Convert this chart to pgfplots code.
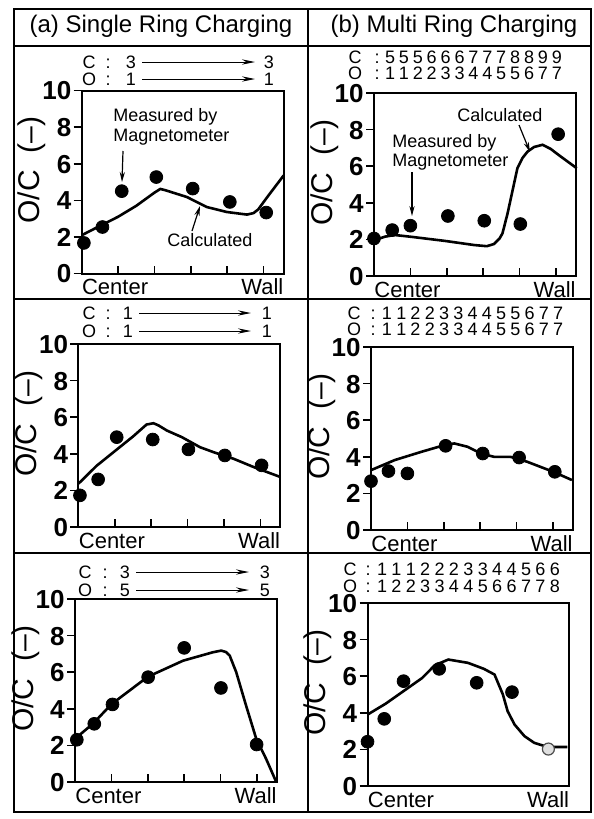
\documentclass[border=0pt]{standalone}
\usepackage{fontspec}
\setmainfont{Liberation Sans}
\usepackage{pgfplots}
\pgfplotsset{compat=1.18}
\usetikzlibrary{arrows.meta}

\pgfplotsset{
  panel/.style={
    scale only axis, width=101pt, height=91.5pt,
    xmin=0, xmax=5.55, ymin=0, ymax=10,
    axis line style={line width=1pt},
    xtick={1,2,3,4,5}, xticklabels={}, xtick pos=left, xtick align=inside,
    ytick={0,2,4,6,8,10}, ytick pos=left, ytick align=outside,
    major tick length=4pt,
    tick style={line width=0.8pt, black},
    yticklabel style={font=\fontsize{13}{13}\selectfont\bfseries, inner xsep=1pt, inner ysep=0pt, text height=9.4pt, text depth=0pt},
    /pgf/number format/assume math mode=true,
    ylabel={O/C\ \ (–)},
    ylabel style={at={(axis description cs:-0.245,0.565)}, anchor=center, font=\fontsize{15}{15}\selectfont},
    clip=false,
  },
  curve/.style={black, line width=1.3pt, no marks},
  dots/.style={only marks, mark=*, mark size=3.2pt, black},
}
\newcommand\cw{%
  \node[anchor=base west, font=\fontsize{11}{11}\selectfont, inner sep=0pt, yshift=-10.5pt] at (rel axis cs:0,0) {Center};
  \node[anchor=base east, font=\fontsize{11}{11}\selectfont, inner sep=0pt, yshift=-10.5pt] at (rel axis cs:1,0) {Wall};}

\begin{document}
\begin{tikzpicture}
\useasboundingbox (0,0) rectangle (297pt,-409.5pt);

% ---------- (a) row 1
\begin{axis}[panel, at={(40.85pt,-136.75pt)}, anchor=south west]
\addplot[curve] coordinates {(0,2.09) (0.5,2.6) (1,3.1) (1.5,3.7) (2.0,4.42) (2.16,4.62) (2.3,4.55) (2.89,4.18) (3.44,3.63) (3.99,3.36) (4.54,3.22) (4.72,3.3) (4.85,3.5) (5.1,4.18) (5.55,5.36)};
\addplot[dots] coordinates {(0.06,1.67) (0.57,2.54) (1.1,4.5) (2.05,5.27) (3.05,4.64) (4.07,3.91) (5.07,3.33)};
\cw
\end{axis}

% ---------- (b) row 1
\begin{axis}[panel, at={(187pt,-138pt)}, anchor=south west]
\addplot[curve] coordinates {(0,1.95) (0.3,2.15) (0.57,2.24) (1.03,2.14) (1.94,1.92) (2.76,1.69) (3.1,1.63) (3.3,1.75) (3.45,2.05) (3.53,2.33) (3.67,3.42) (3.81,4.7) (3.94,5.89) (4.08,6.45) (4.22,6.8) (4.4,7.05) (4.63,7.17) (4.85,6.95) (5.13,6.53) (5.57,5.89)};
\addplot[dots] coordinates {(0,2.05) (0.5,2.51) (1.0,2.75) (2.03,3.28) (3.03,3.02) (4.02,2.84) (5.06,7.75)};
\cw
\end{axis}

% ---------- (a) row 2
\begin{axis}[panel, at={(39.25pt,-263.5pt)}, anchor=south west]
\addplot[curve] coordinates {(0,2.37) (0.5,3.35) (1,4.15) (1.5,4.95) (1.87,5.6) (2.06,5.67) (2.2,5.55) (2.43,5.27) (2.84,4.91) (3.34,4.36) (3.71,4.09) (4.26,3.73) (4.82,3.27) (5.55,2.73)};
\addplot[dots] coordinates {(0.04,1.73) (0.54,2.6) (1.05,4.91) (2.04,4.78) (3.02,4.24) (4.02,3.91) (5.03,3.37)};
\cw
\end{axis}

% ---------- (b) row 2
\begin{axis}[panel, at={(185.5pt,-265pt)}, anchor=south west]
\addplot[curve] coordinates {(0,3.27) (0.65,3.82) (1.38,4.27) (2.02,4.64) (2.29,4.73) (2.65,4.55) (3.02,4.18) (3.38,4.0) (3.83,4.0) (4.29,3.73) (5.01,3.18) (5.52,2.73)};
\addplot[dots] coordinates {(0,2.67) (0.48,3.22) (1.0,3.09) (2.05,4.6) (3.07,4.18) (4.07,3.96) (5.05,3.18)};
\cw
\end{axis}

% ---------- (a) row 3
\begin{axis}[panel, at={(37.5pt,-391pt)}, anchor=south west]
\addplot[curve] coordinates {(0,2.36) (0.5,3.2) (1,4.25) (2,5.75) (2.97,6.63) (3.79,7.09) (4.02,7.18) (4.15,7.1) (4.25,6.91) (4.43,6.0) (4.7,4.18) (4.98,2.36) (5.25,1.27) (5.53,0)};
\addplot[dots] coordinates {(0.05,2.31) (0.53,3.18) (1.03,4.24) (2.01,5.73) (3.0,7.33) (4.01,5.14) (4.99,2.05)};
\cw
\end{axis}

% ---------- (b) row 3
\begin{axis}[panel, at={(183.75pt,-393pt)}, anchor=south west, xtick=\empty]
\addplot[curve] coordinates {(0,3.9) (0.5,4.5) (1,5.2) (1.5,5.9) (1.85,6.6) (2.22,6.91) (2.76,6.73) (3.2,6.4) (3.49,6.09) (3.72,5.0) (3.85,4.09) (4.04,3.36) (4.31,2.73) (4.58,2.36) (4.95,2.13) (5.49,2.13)};
\addplot[dots] coordinates {(0,2.42) (0.46,3.67) (0.99,5.73) (1.97,6.4) (3.0,5.64) (3.97,5.13)};
\addplot[only marks, mark=*, mark size=3pt, mark options={fill=gray!25, draw=gray!60!black, line width=0.6pt}] coordinates {(4.97,2.02)};
\cw
\end{axis}

% ---------- frame, titles, headers, annotations
\begin{scope}[x=0.5pt, y=-0.5pt]
\draw[line width=0.9pt] (14,9) rectangle (591,812);
\draw[line width=0.9pt] (14,46) -- (591,46);
\draw[line width=0.9pt] (14,299) -- (591,299);
\draw[line width=0.9pt] (14,553) -- (591,553);
\draw[line width=0.9pt] (308,9) -- (308,812);

\node[font=\fontsize{12}{12}\selectfont] at (161,26) {(a) Single Ring Charging};
\node[font=\fontsize{12}{12}\selectfont] at (454,26) {(b) Multi Ring Charging};

\tikzset{hdr/.style={font=\fontsize{9}{9}\selectfont, inner sep=0pt, text height=6.4pt, text depth=0pt},
         harr/.style={line width=0.5pt, -{Stealth[length=6.5pt,width=2.6pt]}},
         ann/.style={font=\fontsize{9}{9}\selectfont, inner sep=0pt, anchor=west},
         aarr/.style={line width=0.6pt, -{Stealth[length=5pt,width=2.6pt]}}}

% (a) headers
\foreach \yy/\lc/\lv in {62/C/3, 79/O/1} {
  \node[hdr] at (89,\yy) {\lc}; \node[hdr] at (108,\yy) {:}; \node[hdr] at (131,\yy) {\lv};
  \draw[harr] (142,\yy) -- (255,\yy); \node[hdr] at (269,\yy) {\lv};}
\foreach \yy/\lc/\lv in {313/C/1, 331/O/1} {
  \node[hdr] at (89,\yy) {\lc}; \node[hdr] at (108,\yy) {:}; \node[hdr] at (128,\yy) {\lv};
  \draw[harr] (139,\yy) -- (251,\yy); \node[hdr] at (267,\yy) {\lv};}
\foreach \yy/\lc/\lv in {572/C/3, 590/O/5} {
  \node[hdr] at (85,\yy) {\lc}; \node[hdr] at (105,\yy) {:}; \node[hdr] at (125,\yy) {\lv};
  \draw[harr] (136,\yy) -- (249,\yy); \node[hdr] at (265,\yy) {\lv};}

% (b) headers
\node[hdr] at (355,57) {C}; \node[hdr] at (377,57) {:};
\foreach \d [count=\i from 0] in {5,5,5,6,6,6,7,7,7,8,8,9,9} \node[hdr] at ({390+\i*13.9},57) {\d};
\node[hdr] at (355,73) {O}; \node[hdr] at (377,73) {:};
\foreach \d [count=\i from 0] in {1,1,2,2,3,3,4,4,5,5,6,7,7} \node[hdr] at ({390+\i*13.9},73) {\d};

\node[hdr] at (354,313) {C}; \node[hdr] at (373,313) {:};
\foreach \d [count=\i from 0] in {1,1,2,2,3,3,4,4,5,5,6,7,7} \node[hdr] at ({387+\i*14.25},313) {\d};
\node[hdr] at (354,329) {O}; \node[hdr] at (373,329) {:};
\foreach \d [count=\i from 0] in {1,1,2,2,3,3,4,4,5,5,6,7,7} \node[hdr] at ({387+\i*14.25},329) {\d};

\node[hdr] at (350,569) {C}; \node[hdr] at (368,569) {:};
\foreach \d [count=\i from 0] in {1,1,1,2,2,2,3,3,4,4,5,6,6} \node[hdr] at ({382+\i*14.4},569) {\d};
\node[hdr] at (350,586) {O}; \node[hdr] at (368,586) {:};
\foreach \d [count=\i from 0] in {1,2,2,3,3,4,4,5,6,6,7,7,8} \node[hdr] at ({382+\i*14.4},586) {\d};

% annotations (a) row 1
\node[ann] at (113,117) {Measured by};
\node[ann] at (113,137) {Magnetometer};
\draw[aarr] (123,151) -- (122,182);
\node[ann] at (167,240) {Calculated};
\draw[aarr] (192,231) -- (200,206);

% annotations (b) row 1
\node[ann] at (457,115) {Calculated};
\draw[aarr] (519,125) -- (530,152);
\node[ann] at (392,143) {Measured by};
\node[ann] at (392,162) {Magnetometer};
\draw[aarr] (412,172) -- (412,216);
\end{scope}
\end{tikzpicture}
\end{document}
